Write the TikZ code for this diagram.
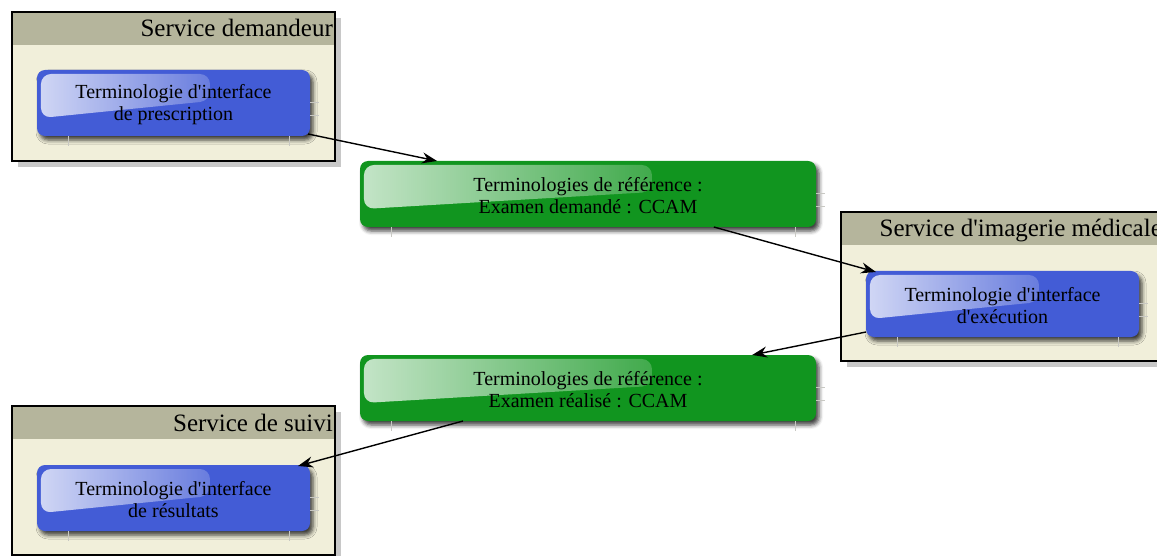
\documentclass[tikz,border=0pt]{standalone}
\usepackage{fontspec}
\setmainfont{Liberation Serif}
\usetikzlibrary{shadows,shadows.blur,fadings,calc,arrows.meta}
\definecolor{boxblue}{RGB}{67,92,214}
\definecolor{boxgreen}{RGB}{17,149,31}
\definecolor{hdr}{RGB}{181,181,156}
\definecolor{cream}{RGB}{241,239,218}
\definecolor{shgray}{RGB}{200,200,200}
\definecolor{tickgray}{RGB}{200,200,195}
\tikzfading[name=glossfade, left color=transparent!25, right color=transparent!80]
\newcommand\glossy[2]{%
  \begin{scope}[shift={(#1.north west)}]
    \fill[white, path fading=glossfade, rounded corners=10pt] (4,-4) -- (#2,-4) -- (#2,-31) -- (4,-48) -- cycle;
  \end{scope}}
\newcommand\boxticks[2]{%
  \draw[tickline] ($(#1.south west)+(31,0)$) -- ++(0,-10);
  \draw[tickline] ($(#1.south east)+(-#2,0)$) -- ++(0,-10);
  \draw[tickline] ($(#1.north east)+(0,-32)$) -- ++(9,0);
  \draw[tickline] ($(#1.north east)+(0,-45)$) -- ++(9,0);}
\newcommand\containerframe[2]{%
  \fill[hdr] (#1.north west) rectangle ($(#1.north east)+(0,-33)$);
  \draw[line width=1.3pt] (#1.north west) rectangle (#1.south east);
  \node[titletext, anchor=base east] (#1t) at ($(#1.north east)+(-2,-25)$) {#2};}
\begin{document}
\begin{tikzpicture}[x=1pt,y=1pt,
  container/.style={fill=cream, minimum width=323pt, minimum height=149pt,
    anchor=north west, inner sep=0pt, outer sep=0pt,
    general shadow={fill=shgray, shadow xshift=6pt, shadow yshift=-6pt}},
  titletext/.style={font=\fontsize{25}{27}\selectfont, inner sep=0pt},
  termbox/.style={rounded corners=8pt, minimum height=66pt, inner sep=0pt,
    outer sep=0pt, anchor=north west,
    blur shadow={shadow xshift=3pt, shadow yshift=-4pt, shadow blur radius=4pt, shadow opacity=75}},
  bluebox/.style={termbox, fill=boxblue, minimum width=273pt},
  greenbox/.style={termbox, fill=boxgreen, minimum width=456pt},
  boxtext/.style={font=\fontsize{20}{22}\selectfont, align=center},
  tickline/.style={draw=tickgray, line width=0.6pt},
  conn/.style={line width=1.4pt, -{Stealth[length=15pt, width=11pt, inset=5pt]}}
]
\useasboundingbox (0,0) rectangle (1157,-556);
\clip (0,0) rectangle (1157,-556);

% containers
\node[container] (c1) at (12,-12) {};
\containerframe{c1}{Service demandeur}
\node[container] (c2) at (841,-212) {};
\containerframe{c2}{Service d\textquotesingle imagerie médicale}
\node[container] (c3) at (12,-406) {};
\containerframe{c3}{Service de suivi}

% boxes
\node[bluebox] (b1) at (37,-70) {};
\boxticks{b1}{21}
\glossy{b1}{173}
\node[boxtext] (b1l) at ($(b1.center)+(0,-2)$) {Terminologie d\textquotesingle interface\\de prescription};

\node[greenbox] (g1) at (360,-161) {};
\boxticks{g1}{21}
\glossy{g1}{292}
\node[boxtext] (g1l) at ($(g1.center)+(0,-2)$) {Terminologies de référence :\\Examen demandé : CCAM};

\node[bluebox] (b2) at (866,-271) {};
\boxticks{b2}{21}
\glossy{b2}{173}
\node[boxtext] (b2l) at ($(b2.center)+(0,-2)$) {Terminologie d\textquotesingle interface\\d\textquotesingle exécution};

\node[greenbox] (g2) at (360,-355) {};
\boxticks{g2}{21}
\glossy{g2}{292}
\node[boxtext] (g2l) at ($(g2.center)+(0,-2)$) {Terminologies de référence :\\Examen réalisé : CCAM};

\node[bluebox] (b3) at (37,-465) {};
\boxticks{b3}{21}
\glossy{b3}{173}
\node[boxtext] (b3l) at ($(b3.center)+(0,-2)$) {Terminologie d\textquotesingle interface\\de résultats};

% connectors
\draw[conn] ($(b1.south east)+(-2,2)$) -- ($(g1.north west)!0.169!(g1.north east)$);
\draw[conn] ($(g1.south west)!0.776!(g1.south east)$) -- ($(b2.north west)+(10,-1)$);
\draw[conn] ($(b2.south west)+(0,5)$) -- ($(g2.north west)!0.86!(g2.north east)$);
\draw[conn] ($(g2.south west)!0.226!(g2.south east)$) -- ($(b3.north east)+(-12,-1)$);
\end{tikzpicture}
\end{document}
